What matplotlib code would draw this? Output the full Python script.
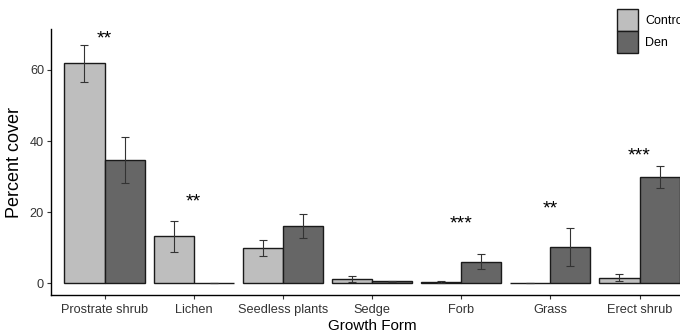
import numpy as np
import matplotlib
matplotlib.use('Agg')
from matplotlib import pyplot as plt

plt.rcParams['font.family'] = ['Liberation Sans', 'DejaVu Sans']

# Data
forms = ['Prostrate shrub', 'Lichen', 'Seedless plants', 'Sedge', 'Forb', 'Grass', 'Erect shrub']
control_mean = [61.8, 13.2, 9.9, 1.2, 0.4, 0.0, 1.6]
control_se = [5.3, 4.3, 2.25, 0.8, 0.2, 0.0, 1.1]
den_mean = [34.6, 0.2, 16.1, 0.5, 6.1, 10.2, 29.9]
den_se = [6.5, 0.0, 3.4, 0.2, 2.0, 5.4, 3.2]
stars = ['**', '**', '', '', '***', '**', '***']
star_y = [68.6, 22.9, 0, 0, 16.8, 20.9, 35.8]

fig = plt.figure(figsize=(6.8, 3.35), dpi=100)
# axes extend past the right edge, as in the cropped original
ax = fig.add_axes([51 / 680, 40 / 335, 642 / 680, 266 / 335])

x = np.arange(len(forms))
w = 0.45
err_kw = dict(ecolor='#333333', elinewidth=0.8, capsize=3, capthick=0.8)
ax.bar(x - w / 2, control_mean, w, yerr=control_se, color='#BEBEBE',
       edgecolor='#1a1a1a', linewidth=1.0, label='Control', error_kw=err_kw)
ax.bar(x + w / 2, den_mean, w, yerr=den_se, color='#666666',
       edgecolor='#1a1a1a', linewidth=1.0, label='Den', error_kw=err_kw)

for i, s in enumerate(stars):
    if s:
        ax.text(x[i], star_y[i], s, ha='center', va='center', fontsize=14, color='black')

ax.set_xlim(-0.6, 6.6)
ax.set_ylim(-3.3, 71.5)
ax.set_xticks(x)
ax.set_xticklabels(forms)
ax.set_yticks([0, 20, 40, 60])
ax.tick_params(axis='both', labelsize=9.2, colors='#333333', length=3, width=0.8,
               labelcolor='#333333')
ax.tick_params(axis='y', pad=2)
ax.set_xlabel('Growth Form', fontsize=11, labelpad=2)
ax.set_ylabel('Percent cover', fontsize=13, labelpad=5)

for side in ['top', 'right']:
    ax.spines[side].set_visible(False)
for side in ['left', 'bottom']:
    ax.spines[side].set_linewidth(1.0)
    ax.spines[side].set_color('black')

# legend sits partly outside the picture, like the cropped original
ax.legend(loc='upper left', bbox_to_anchor=(617 / 680, 1 - 9 / 335),
          bbox_transform=fig.transFigure, frameon=False, fontsize=9,
          handlelength=1.68, handleheight=2.3, labelspacing=0.0,
          handletextpad=0.6, borderpad=0, borderaxespad=0)

plt.savefig('out.png', dpi=100)
